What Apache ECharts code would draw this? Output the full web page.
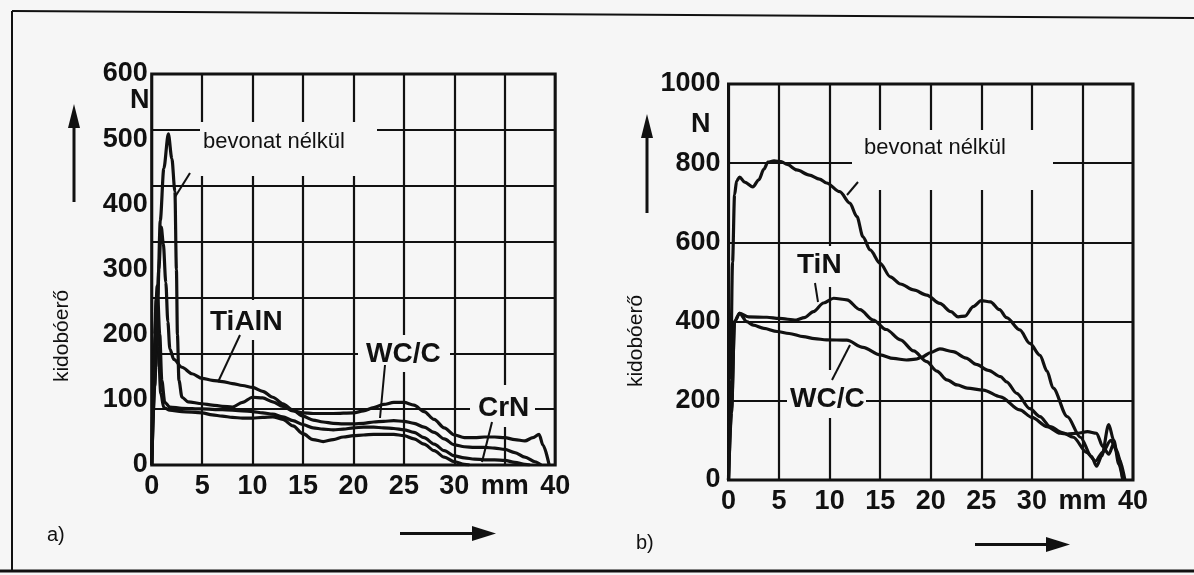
<!DOCTYPE html>
<html><head><meta charset="utf-8">
<script src="https://cdn.jsdelivr.net/npm/echarts@6/dist/echarts.min.js"></script>
<style>html,body{margin:0;padding:0;background:#f6f6f6}#c{width:1194px;height:575px}</style>
</head><body><div id="c"></div>
<script>
// ---- data ----
const xTickLabels = ['0', '5', '10', '15', '20', '25', '30', 'mm', '40'];

// chart a)
const aUncoated = [[0,0],[0.3,120],[0.6,260],[0.85,375],[1.2,455],[1.65,508],[2.0,470],[2.3,420],[2.45,300],[2.55,200],[2.7,130],[3.0,104],[3.6,97],[5,94],[6,92],[7,90],[8,89],[9,96],[10,104],[11,103],[12,97],[13,90],[14,83],[15,80],[16,79],[18,79],[20,80],[21,83],[22,88],[23,93],[24,96],[25,96],[26,92],[27,82],[28,70],[29,57],[30,46],[31,42],[32,42],[33,43],[34,43],[35,42],[36,39],[37,37],[37.8,42],[38.4,47],[38.8,30],[39.4,0]];
const aTiAlN = [[0,0],[0.4,150],[0.7,300],[0.95,365],[1.15,340],[1.4,280],[1.6,220],[1.8,178],[2.2,162],[3,150],[4,140],[5,133],[6,130],[7,128],[8,125],[9,122],[10,119],[11,113],[12,104],[13,94],[14,84],[15,75],[16,69],[17,66],[18,64],[19,63],[20,63],[21,64],[22,66],[23,67],[24,68],[25,67],[26,64],[27,58],[28,50],[29,40],[30,31],[31,28],[32,27],[33,27],[34,26],[35,24],[36,19],[37,12],[38,5],[38.6,0]];
const aWCC = [[0,0],[0.3,200],[0.55,275],[0.8,200],[1.0,130],[1.3,96],[1.8,89],[3,87],[5,86],[7,85],[9,83],[10,82],[11,80],[12,78],[13,74],[14,68],[15,62],[16,57],[17,55],[18,54],[19,55],[20,57],[21,58],[22,58],[23,57],[24,56],[25,54],[26,50],[27,42],[28,32],[29,22],[30,14],[31,11],[32,9],[33,8],[34,8],[35,7],[36,4],[37,1],[37.5,0]];
const aCrN = [[0,0],[0.2,150],[0.45,255],[0.65,180],[0.9,110],[1.2,88],[1.8,84],[3,82],[5,80],[6,77],[7,75],[8,73],[9,72],[10,72],[11,73],[12,74],[13,70],[14,60],[15,48],[16,39],[17,36],[18,39],[19,43],[20,45],[21,46],[22,47],[23,47],[24,47],[25,45],[26,40],[27,32],[28,22],[29,12],[30,5],[31,1],[31.5,0]];

// chart b)
const bUncoated = [[0,0],[0.2,250],[0.4,550],[0.6,720],[0.8,755],[1.1,765],[1.6,752],[2.4,740],[3.0,758],[3.5,785],[3.9,803],[4.5,806],[5.2,804],[5.8,797],[6.75,783],[8.0,770],[9.0,760],[9.7,750],[11.0,728],[12.0,699],[12.7,665],[13.3,614],[14.0,581],[15.0,547],[16.0,513],[17.0,495],[18.3,480],[19.6,467],[20.9,446],[22.0,425],[22.7,412],[23.4,414],[24.2,438],[25.0,453],[25.9,450],[26.8,430],[27.5,410],[28.8,379],[29.8,345],[30.8,315],[31.5,275],[32.1,232],[33.5,160],[34.8,108],[35.9,59],[36.4,35],[36.9,60],[37.6,140],[38.1,100],[38.6,40],[39.0,0]];
const bTiN = [[0,0],[0.3,180],[0.6,400],[1.1,421],[2.0,412],[3.8,411],[5.0,408],[6.7,404],[7.5,410],[8.4,425],[9.4,447],[10.4,459],[11.7,455],[13.0,430],[14.3,404],[15.6,380],[17.0,354],[18.3,326],[19.6,299],[20.6,275],[21.6,253],[22.6,240],[23.6,232],[25.2,227],[26.9,210],[28.8,177],[30.0,158],[31.5,135],[32.8,118],[33.5,116],[34.5,118],[35.5,122],[36.4,118],[37.0,85],[37.6,65],[38.1,92],[38.6,55],[39.2,0]];
const bWCC = [[0,0],[0.3,170],[0.6,400],[1.1,421],[1.8,400],[2.45,391],[3.5,383],[4.8,375],[6.0,370],[7.4,362],[8.5,357],[9.7,354],[11.7,353],[13.3,335],[15.0,316],[16.3,307],[17.6,303],[18.5,305],[19.1,310],[20.0,322],[20.9,331],[22.2,324],[23.5,308],[24.5,292],[25.7,277],[26.9,261],[27.5,248],[28.5,219],[29.8,180],[30.8,160],[31.8,135],[33.0,120],[34.1,108],[35.4,70],[36.3,48],[37.0,70],[37.8,100],[38.4,75],[39.0,0]];

// ---- chart ----
const INK = '#111';
const BG = '#f6f6f6';
const FONT = '"Liberation Sans", Arial, sans-serif';
const chart = echarts.init(document.getElementById('c'), null, {renderer: 'canvas'});

const tickFont = {fontSize: 27, fontWeight: 'bold', color: INK, fontFamily: FONT};
function xAxis(grid) {
  return {
    gridIndex: grid, type: 'value', min: 0, max: 40, interval: 5,
    axisLine: {show: false}, axisTick: {show: false},
    splitLine: {show: true, lineStyle: {color: INK, width: 2.2}},
    axisLabel: Object.assign({margin: 8, formatter: v => xTickLabels[Math.round(v / 5)]}, tickFont)
  };
}
function curve(name, data, xi, yi) {
  return {
    name, type: 'line', xAxisIndex: xi, yAxisIndex: yi, data,
    showSymbol: false, symbol: 'none', smooth: 0.3, smoothMonotone: 'x',
    lineStyle: {color: INK, width: 3.2}, silent: true, z: 4
  };
}
function txt(x, y, s, size, opts) {
  return Object.assign({type: 'text', z: 20, x, y,
    style: Object.assign({text: s, fill: INK, font: (opts && opts.weight || 'bold') + ' ' + size + 'px ' + FONT,
      textAlign: 'left', textVerticalAlign: 'middle'}, opts && opts.style)}, opts && opts.el);
}
function box(x, y, w, h) {
  return {type: 'rect', z: 15, shape: {x, y, width: w, height: h}, style: {fill: BG}};
}
function seg(x1, y1, x2, y2, w) {
  return {type: 'line', z: 20, shape: {x1, y1, x2, y2}, style: {stroke: INK, lineWidth: w || 2}};
}
function poly(points) {
  return {type: 'polygon', z: 20, shape: {points}, style: {fill: INK}};
}

const graphics = [
  // frame of the scanned page
  seg(12, 11, 1194, 18, 2), seg(12, 11, 12, 572, 2), seg(0, 571, 1194, 571, 3),
  // white boxes behind labels
  box(200, 122, 177, 54), box(207, 300, 76, 40), box(358, 335, 92, 37), box(470, 385, 65, 42),
  box(852, 130, 201, 60), box(793, 246, 49, 41), box(787, 370, 79, 48),
  // chart a) labels
  txt(130, 101, 'N', 27),
  txt(203, 142, 'bevonat nélkül', 22, {weight: 'normal'}),
  txt(210, 322, 'TiAlN', 28),
  txt(366, 354, 'WC/C', 28),
  txt(478, 408, 'CrN', 28),
  seg(190, 173, 175, 197), seg(240, 335, 218, 382), seg(385, 365, 380, 418), seg(492, 422, 482, 462),
  // chart b) labels
  txt(691, 125, 'N', 27),
  txt(864, 148, 'bevonat nélkül', 22, {weight: 'normal'}),
  txt(797, 265, 'TiN', 28),
  txt(790, 399, 'WC/C', 28),
  seg(858, 182, 847, 195), seg(815, 283, 818, 302), seg(850, 345, 832, 380),
  // y axis titles
  txt(62, 336, 'kidobóerő', 21, {weight: 'normal', style: {textAlign: 'center'}, el: {rotation: Math.PI / 2}}),
  txt(636, 341, 'kidobóerő', 21, {weight: 'normal', style: {textAlign: 'center'}, el: {rotation: Math.PI / 2}}),
  // arrows
  {type: 'rect', z: 20, shape: {x: 72.5, y: 124, width: 3, height: 78}, style: {fill: INK}},
  poly([[74, 104], [68, 128], [80, 128]]),
  {type: 'rect', z: 20, shape: {x: 645.5, y: 134, width: 3, height: 79}, style: {fill: INK}},
  poly([[647, 114], [641, 138], [653, 138]]),
  {type: 'rect', z: 20, shape: {x: 400, y: 532, width: 76, height: 3}, style: {fill: INK}},
  poly([[496, 533.5], [472, 526], [472, 541]]),
  {type: 'rect', z: 20, shape: {x: 975, y: 543, width: 75, height: 3}, style: {fill: INK}},
  poly([[1070, 544.5], [1046, 537], [1046, 552]]),
  // panel letters
  txt(47, 535, 'a)', 20, {weight: 'normal'}),
  txt(636, 543, 'b)', 20, {weight: 'normal'})
];

chart.setOption({
  animation: false,
  backgroundColor: BG,
  grid: [
    {left: 151.7, top: 74, width: 403.5, height: 391, show: true, borderColor: INK, borderWidth: 3, backgroundColor: 'transparent'},
    {left: 728.5, top: 84, width: 404.5, height: 396, show: true, borderColor: INK, borderWidth: 3, backgroundColor: 'transparent'}
  ],
  xAxis: [xAxis(0), xAxis(1)],
  yAxis: [
    {gridIndex: 0, type: 'value', min: 0, max: 600, interval: 100,
      axisLine: {show: false}, axisTick: {show: false}, splitLine: {show: false},
      axisLabel: Object.assign({margin: 4, formatter: v => String(v)}, tickFont)},
    {gridIndex: 0, type: 'value', min: 0, max: 7, interval: 1, position: 'right',
      axisLine: {show: false}, axisTick: {show: false}, axisLabel: {show: false},
      splitLine: {show: true, lineStyle: {color: INK, width: 2.2}}},
    {gridIndex: 1, type: 'value', min: 0, max: 1000, interval: 200,
      axisLine: {show: false}, axisTick: {show: false},
      splitLine: {show: true, lineStyle: {color: INK, width: 2.2}},
      axisLabel: Object.assign({margin: 8, formatter: v => String(v)}, tickFont)}
  ],
  series: [
    curve('bevonat nélkül', aUncoated, 0, 0),
    curve('TiAlN', aTiAlN, 0, 0),
    curve('WC/C', aWCC, 0, 0),
    curve('CrN', aCrN, 0, 0),
    curve('bevonat nélkül', bUncoated, 1, 2),
    curve('TiN', bTiN, 1, 2),
    curve('WC/C', bWCC, 1, 2)
  ],
  graphic: graphics
});
</script>
</body></html>
